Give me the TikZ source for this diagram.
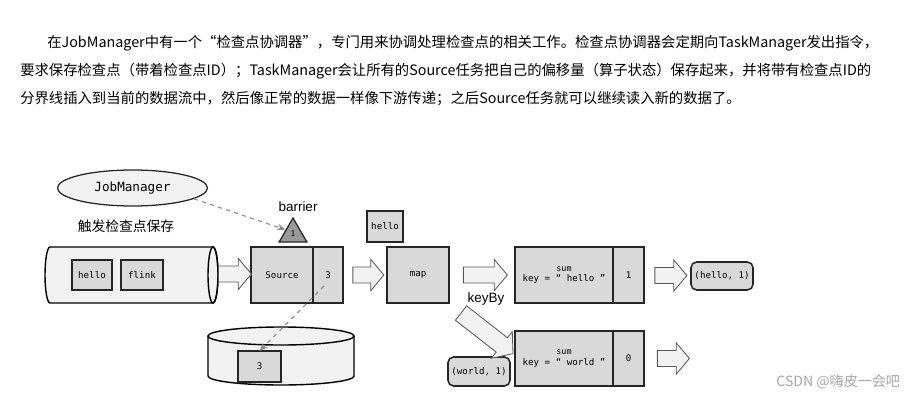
\documentclass[tikz,border=0pt]{standalone}
\usepackage{fontspec}
\setsansfont{Liberation Sans}
\setmonofont{DejaVu Sans Mono}
\newfontfamily\cjk{Noto Sans CJK SC}
\usetikzlibrary{positioning,arrows.meta,calc,shapes.geometric,shapes.arrows}

\begin{document}
\begin{tikzpicture}[x=0.025cm, y=-0.025cm,
    box/.style={draw=black!85, fill=black!15, line width=1.1pt, inner sep=0, outer sep=0,
      font=\ttfamily\fontsize{6.5}{7.5}\selectfont},
    pill/.style={box, rounded corners=4pt},
    fat/.style={single arrow, draw=black!65, fill=black!5, line width=0.6pt, inner xsep=0, inner ysep=0.19cm,
      minimum width=0.75cm, single arrow head extend=0.19cm, single arrow tip angle=100},
    hint/.style={draw=black!45, dashed, line width=0.8pt, -{Stealth[length=6pt]}},
    tag/.style={font=\sffamily\fontsize{9.6}{11}\selectfont},
    para/.style={anchor=west, inner sep=0, font=\cjk\fontsize{10.2}{12}\selectfont}]
    \useasboundingbox (0,0) rectangle (912,400);

    % intro text
    \node[para] (l1) at (47,43) {在JobManager中有一个“检查点协调器”，专门用来协调处理检查点的相关工作。检查点协调器会定期向TaskManager发出指令，};
    \node[para] (l2) at (20,71) {要求保存检查点（带着检查点ID）；TaskManager会让所有的Source任务把自己的偏移量（算子状态）保存起来，并将带有检查点ID的};
    \node[para] (l3) at (20,99) {分界线插入到当前的数据流中，然后像正常的数据一样像下游传递；之后Source任务就可以继续读入新的数据了。};

    % job manager and barrier
    \node[ellipse, draw=black!85, fill=black!5, line width=0.9pt, minimum width=3.75cm, minimum height=0.9cm,
      font=\ttfamily\fontsize{9}{10}\selectfont] (jm) at (132.5,188) {JobManager};
    \node[font=\cjk\fontsize{9.8}{11}\selectfont] (trig) at (126,226) {触发检查点保存};
    \node[tag] (blab) at (298,207) {barrier};
    \node[regular polygon, regular polygon sides=3, draw=black!85, fill=black!40, line width=0.9pt,
      minimum size=0.8cm, inner sep=0, font=\ttfamily\fontsize{5.5}{6}\selectfont] (bar) at (293,234) {1};

    % input stream
    \draw[line width=1pt, fill=black!5] (213,247) -- (50,247)
      arc[start angle=90, end angle=270, x radius=0.125cm, y radius=0.7cm] -- (213,303)
      arc[start angle=-90, end angle=90, x radius=0.125cm, y radius=0.7cm] -- cycle;
    \draw[line width=1pt] (213,275) ellipse[x radius=0.125cm, y radius=0.7cm];
    \node[box, minimum width=1cm, minimum height=0.75cm] (w1) at (92,275) {hello};
    \node[box, minimum width=1.05cm, minimum height=0.75cm] (w2) at (142,275) {flink};

    % state backend
    \draw[line width=1pt, fill=black!5] (208,336) -- (208,376)
      arc[start angle=180, end angle=360, x radius=1.825cm, y radius=0.225cm] -- (354,336);
    \draw[line width=1pt, fill=black!5] (281,336) ellipse[x radius=1.825cm, y radius=0.225cm];
    \node[box, minimum width=1.075cm, minimum height=0.775cm] (d3) at (259.5,366.5) {3};

    % operators
    \node[box, minimum width=1.55cm, minimum height=1.4cm] (src) at (282,275) {Source};
    \node[box, minimum width=0.75cm, minimum height=1.4cm, right=0pt of src] (cnt) {3};
    \node[box, minimum width=1.55cm, minimum height=1.4cm] (map) at (418,275) {map};
    \node[box, minimum width=0.9cm, minimum height=0.775cm] (tok) at (385,226.5) {hello};
    \node[box, minimum width=2.45cm, minimum height=1.4cm, align=center] (sum1) at (564,275)
      {{\fontsize{6}{7}\selectfont sum}\\key = “ hello ”};
    \node[box, minimum width=0.775cm, minimum height=1.4cm, right=0pt of sum1] (one1) {1};
    \node[box, minimum width=2.45cm, minimum height=1.375cm, align=center] (sum2) at (564,358.5)
      {{\fontsize{6}{7}\selectfont sum}\\key = “ world ”};
    \node[box, minimum width=0.775cm, minimum height=1.375cm, right=0pt of sum2] (one2) {0};
    \node[pill, minimum width=1.55cm, minimum height=0.7cm] (out1) at (722,276) {(hello, 1)};
    \node[pill, minimum width=1.55cm, minimum height=0.725cm] (out2) at (479,371.5) {(world, 1)};
    \node[tag] (kb) at (486,299) {keyBy};

    % block arrows
    \node[fat, minimum height=0.825cm] (a1) at (231.5,274) {};
    \node[fat, minimum height=0.775cm] (a2) at ($(cnt.east)!0.5!(map.west)$) {};
    \node[fat, minimum height=1.1cm] (a3) at ($(map.east)!0.5!(sum1.west)$) {};
    \node[fat, minimum height=0.8cm] (a4) at ($(one1.east)!0.5!(out1.west)$) {};
    \node[fat, minimum height=0.8cm] (a5) at ($(one2.east)+(26,0)$) {};
    \node[fat, minimum height=1.65cm, minimum width=0.85cm, inner ysep=0.21cm, rotate=-38] (a6) at (484,331) {};

    % checkpoint hints
    \coordinate (ckpt) at (324,286);
    \draw[hint] (jm.-10) -- (bar.side 1);
    \draw[hint] (ckpt) -- (d3.north);

    \node[font=\cjk\fontsize{10}{12}\selectfont, text=black!35, anchor=east] (mark) at (905,382) {CSDN @嗨皮一会吧};
  \end{tikzpicture}
\end{document}
